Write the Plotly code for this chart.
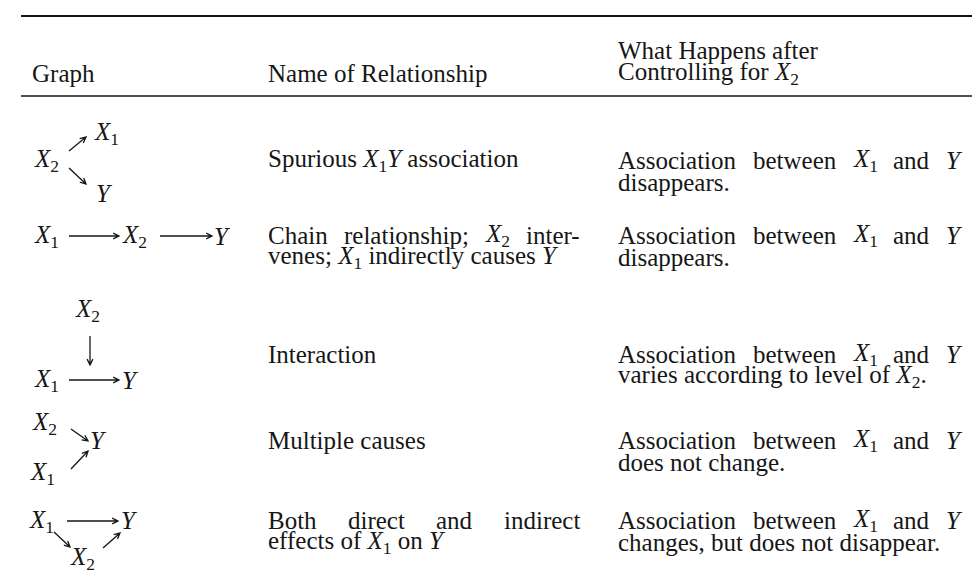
import math
import re
import plotly.graph_objects as go

# ---------------- table content ----------------
headers = ["Graph", "Name of Relationship", "What Happens after",
           "Controlling for <i>X</i><sub>2</sub>"]

relationship_names = [
    ["Spurious <i>X</i><sub>1</sub><i>Y</i> association"],
    ["Chain relationship; <i>X</i><sub>2</sub> inter-",
     "venes; <i>X</i><sub>1</sub> indirectly causes <i>Y</i>"],
    ["Interaction"],
    ["Multiple causes"],
    ["Both direct and indirect", "effects of <i>X</i><sub>1</sub> on <i>Y</i>"],
]

after_control = [
    ["Association between <i>X</i><sub>1</sub> and <i>Y</i>", "disappears."],
    ["Association between <i>X</i><sub>1</sub> and <i>Y</i>", "disappears."],
    ["Association between <i>X</i><sub>1</sub> and <i>Y</i>",
     "varies according to level of <i>X</i><sub>2</sub>."],
    ["Association between <i>X</i><sub>1</sub> and <i>Y</i>", "does not change."],
    ["Association between <i>X</i><sub>1</sub> and <i>Y</i>",
     "changes, but does not disappear."],
]

# graph diagrams: node labels (a, b, c) for each row
X1 = "<i>X</i><sub>1</sub>"
X2 = "<i>X</i><sub>2</sub>"
Yv = "<i>Y</i>"
graph_nodes = [
    {"a": X2, "b": X1, "c": Yv},   # X2 -> X1, X2 -> Y
    {"a": X1, "b": X2, "c": Yv},   # X1 -> X2 -> Y
    {"a": X2, "b": X1, "c": Yv},   # X2 -> (X1 -> Y)
    {"a": X2, "b": Yv, "c": X1},   # X2 -> Y <- X1
    {"a": X1, "b": Yv, "c": X2},   # X1 -> Y, X1 -> X2 -> Y
]

# ---------------- styling / layout ----------------
FONT = "Liberation Serif, Times New Roman, serif"
FS = 25
INK = "#161616"

ROMAN = {' ': 250, ',': 250, '-': 333, '.': 250, ';': 278,
         'A': 722, 'B': 667, 'C': 667, 'G': 722, 'H': 722, 'I': 333, 'M': 889,
         'N': 722, 'R': 667, 'S': 556, 'W': 944, 'X': 722, 'Y': 722,
         'a': 444, 'b': 500, 'c': 444, 'd': 500, 'e': 444, 'f': 333, 'g': 500,
         'h': 500, 'i': 278, 'l': 278, 'm': 778, 'n': 500, 'o': 500, 'p': 500,
         'r': 333, 's': 389, 't': 278, 'u': 500, 'v': 500, 'w': 722, 'y': 500,
         '1': 500, '2': 500}
ITALIC = {'X': 611, 'Y': 556}


def text_width(markup, fs=FS):
    italic = sub = False
    w = 0.0
    for tok in re.split(r'(<[^>]+>)', markup):
        if tok == '<i>':
            italic = True
        elif tok == '</i>':
            italic = False
        elif tok == '<sub>':
            sub = True
        elif tok == '</sub>':
            sub = False
        else:
            for ch in tok:
                tbl = ITALIC if (italic and ch in ITALIC) else ROMAN
                w += tbl.get(ch, 500) * (0.7 if sub else 1.0)
    return w / 1000.0 * fs


annotations = []
shapes = []


def put(x, y, txt):
    annotations.append(dict(x=x, y=y, xref="x", yref="y", text=txt,
                            showarrow=False, xanchor="left", yanchor="middle",
                            borderpad=0, borderwidth=0,
                            font=dict(family=FONT, size=FS, color=INK)))


def put_line(x, y, line, right=None):
    if right is None:
        put(x, y, line)
        return
    words = line.split(" ")
    widths = [text_width(w) for w in words]
    gap = (right - x - sum(widths)) / (len(words) - 1)
    cx = x
    for w, wd in zip(words, widths):
        put(cx, y, w)
        cx += wd + gap


def arrow(tail, head, barb=6.5, ang=26):
    (tx, ty), (hx, hy) = tail, head
    th = math.atan2(hy - ty, hx - tx)
    pts = []
    for s in (1, -1):
        a = th + math.pi - s * math.radians(ang)
        pts.append((hx + barb * math.cos(a), hy + barb * math.sin(a)))
    path = (f"M{tx},{ty} L{hx},{hy} M{pts[0][0]:.2f},{pts[0][1]:.2f} "
            f"L{hx},{hy} L{pts[1][0]:.2f},{pts[1][1]:.2f}")
    shapes.append(dict(type="path", xref="x", yref="y", path=path,
                       line=dict(color=INK, width=1.3)))


COL1, COL2, COL3 = 24, 260, 610
COL2_RIGHT, COL3_RIGHT = 572, 952
LINE_GAP = 22.5
row_y = [152, 227, 346, 432, 512]

# header
put(COL1, 65, headers[0])
put(COL2, 65, headers[1])
put(COL3, 42, headers[2])
put(COL3, 65, headers[3])

# body text
justify_col2 = {(1, 0), (4, 0)}
for i, y0 in enumerate(row_y):
    for j, ln in enumerate(relationship_names[i]):
        put_line(COL2, y0 + j * LINE_GAP, ln,
                 COL2_RIGHT if (i, j) in justify_col2 else None)
    for j, ln in enumerate(after_control[i]):
        put_line(COL3, y0 + j * LINE_GAP, ln,
                 COL3_RIGHT if j == 0 else None)

# diagram node positions and arrow geometry (layout only)
node_pos = [
    {"a": (26, 152), "b": (86, 125), "c": (88, 185)},
    {"a": (26, 228), "b": (114, 228), "c": (206, 228)},
    {"a": (67, 302), "b": (26, 372), "c": (114, 372)},
    {"a": (24, 415), "b": (82, 432), "c": (22, 465)},
    {"a": (21, 513), "b": (113, 512), "c": (62, 550)},
]
edge_pos = [
    [((61, 143), (78, 129)), ((61, 160), (78, 176))],
    [((61, 228), (111, 228)), ((152, 228), (204, 228))],
    [((82, 328), (82, 357)), ((61, 372), (111, 372))],
    [((63, 421), (80, 433)), ((63, 461), (80, 443))],
    [((59, 513), (110, 513)), ((46, 524), (62, 539)), ((95, 540), (112, 525))],
]
for i in range(len(graph_nodes)):
    for k, lbl in graph_nodes[i].items():
        px, py = node_pos[i][k]
        put(px, py, lbl)
    for (tail, head) in edge_pos[i]:
        arrow(tail, head)

shapes += [
    dict(type="line", xref="x", yref="y", x0=13, x1=978, y0=8, y1=8,
         line=dict(color=INK, width=2)),
    dict(type="line", xref="x", yref="y", x0=13, x1=973, y0=88, y1=88,
         line=dict(color=INK, width=1.6)),
]

fig = go.Figure()
fig.update_layout(
    width=980, height=575,
    margin=dict(l=0, r=0, t=0, b=0),
    paper_bgcolor="white", plot_bgcolor="white",
    xaxis=dict(range=[0, 980], visible=False, fixedrange=True),
    yaxis=dict(range=[575, 0], visible=False, fixedrange=True),
    annotations=annotations, shapes=shapes, showlegend=False,
)
fig.write_html("out.html", config={"displayModeBar": False})
